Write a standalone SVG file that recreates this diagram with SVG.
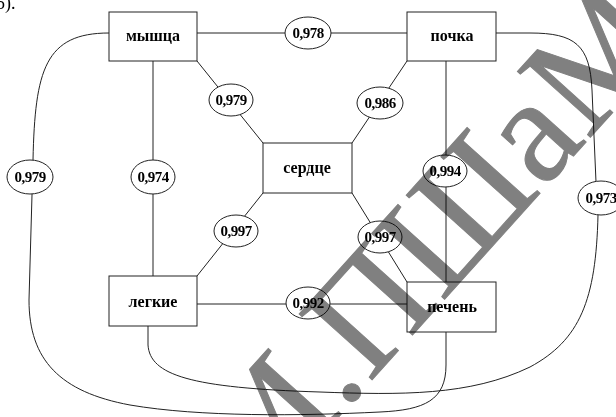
<svg xmlns="http://www.w3.org/2000/svg" width="616" height="417" viewBox="0 0 616 417">
<style>
.box{fill:#fff;stroke:#222;stroke-width:1}
.ell{fill:#fff;stroke:#222;stroke-width:1}
.ln{fill:none;stroke:#222;stroke-width:1}
.t{font-family:"Liberation Serif","Times New Roman","DejaVu Serif","Noto Serif",serif;font-weight:bold;font-size:16px;text-anchor:middle;fill:#000}
.n{font-family:"Liberation Serif","Times New Roman","DejaVu Serif","Noto Serif",serif;font-weight:bold;font-size:15px;text-anchor:middle;fill:#000;letter-spacing:-0.5px}
.wm{font-family:"Liberation Serif","Times New Roman","DejaVu Serif","Noto Serif",serif;font-size:150px;fill:#808080;stroke:#808080;stroke-width:1;mix-blend-mode:multiply}
</style>
<rect width="616" height="417" fill="#fff"/>
<text x="-4" y="9" font-family="Liberation Serif,Times New Roman,DejaVu Serif,serif" font-size="18">5).</text>
<g id="connectors">
<line class="ln" x1="197" y1="33" x2="407" y2="33"/>
<line class="ln" x1="153" y1="61" x2="153" y2="276"/>
<line class="ln" x1="446" y1="61" x2="446" y2="282"/>
<line class="ln" x1="197" y1="61" x2="263" y2="143"/>
<line class="ln" x1="407" y1="61" x2="352" y2="143"/>
<line class="ln" x1="352" y1="193" x2="407" y2="282"/>
<line class="ln" x1="263" y1="193" x2="197" y2="276"/>
<line class="ln" x1="197" y1="304" x2="407" y2="304"/>
<path class="ln" d="M109,33 C45,33 35,70 33,160 L29,300 C29,360 60,392 130,405 C200,417 300,416 380,412 C425,410 446,400 446,365 V332"/>
<path class="ln" d="M148,326 V345 C150,375 190,388 320,392 C400,395 470,396 530,367 C580,340 596,300 598,215 L596,182 L592,90 C590,45 575,33 530,33 H496"/>
</g>
<g id="n-myshca"><rect class="box" x="109" y="12" width="88" height="49"/><text class="t" x="153" y="41">мышца</text></g>
<g id="n-pochka"><rect class="box" x="407" y="12" width="89" height="49"/><text class="t" x="452" y="41">почка</text></g>
<g id="n-serdce"><rect class="box" x="263" y="143" width="89" height="50"/><text class="t" x="307" y="173">сердце</text></g>
<g id="n-legkie"><rect class="box" x="109" y="276" width="88" height="50"/><text class="t" x="153" y="307">легкие</text></g>
<g id="n-pechen"><rect class="box" x="407" y="282" width="89" height="50"/><text class="t" x="452" y="312">печень</text></g>
<g id="w-0978"><ellipse class="ell" cx="308" cy="33" rx="23" ry="16"/><text class="n" x="308" y="38">0,978</text></g>
<g id="w-0979l"><ellipse class="ell" cx="30" cy="177" rx="23" ry="17"/><text class="n" x="30" y="182">0,979</text></g>
<g id="w-0974"><ellipse class="ell" cx="153" cy="177" rx="22" ry="17"/><text class="n" x="153" y="182">0,974</text></g>
<g id="w-0979m"><ellipse class="ell" cx="231" cy="100" rx="22" ry="16"/><text class="n" x="231" y="105">0,979</text></g>
<g id="w-0986"><ellipse class="ell" cx="380" cy="103" rx="23" ry="16"/><text class="n" x="380" y="108">0,986</text></g>
<g id="w-0994"><ellipse class="ell" cx="445" cy="171" rx="22" ry="16"/><text class="n" x="445" y="176">0,994</text></g>
<g id="w-0997l"><ellipse class="ell" cx="236" cy="231" rx="22" ry="16"/><text class="n" x="236" y="236">0,997</text></g>
<g id="w-0997r"><ellipse class="ell" cx="380" cy="237" rx="22" ry="16"/><text class="n" x="380" y="242">0,997</text></g>
<g id="w-0992"><ellipse class="ell" cx="308" cy="303" rx="22" ry="16"/><text class="n" x="308" y="308">0,992</text></g>
<g id="w-0973"><ellipse class="ell" cx="601" cy="198" rx="23" ry="17"/><text class="n" x="601" y="203">0,973</text></g>
<text class="wm" transform="translate(255,510) rotate(-48)">М.ПШаМ</text>
</svg>
